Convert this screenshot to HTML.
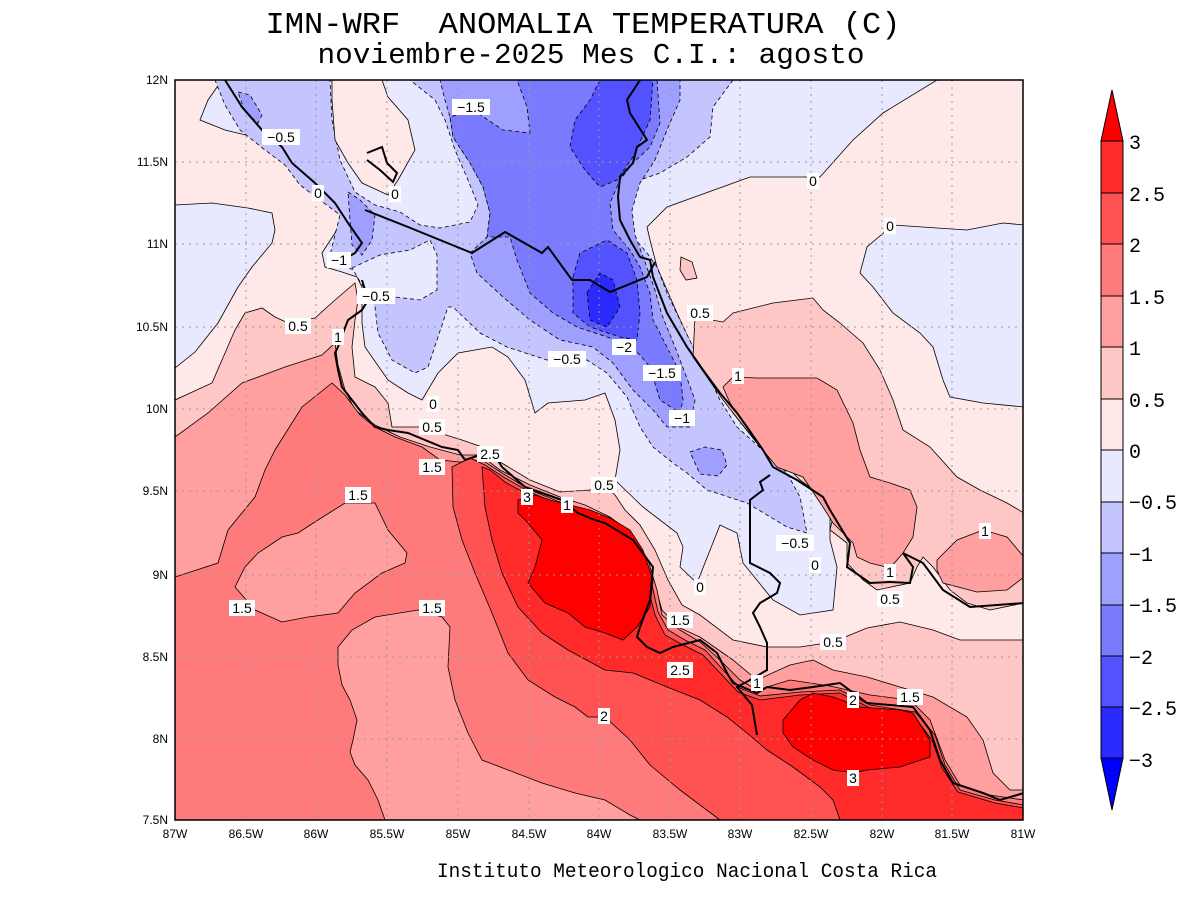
<!DOCTYPE html>
<html><head><meta charset="utf-8"><style>
html,body{margin:0;padding:0;background:#fff;}
svg{display:block;}
.t{font-family:"Liberation Mono",monospace;}
.lb{font-family:"Liberation Sans",sans-serif;font-size:14px;text-anchor:middle;}
</style></head><body>
<svg width="1200" height="900" viewBox="0 0 1200 900" xmlns="http://www.w3.org/2000/svg">
<defs><clipPath id="pc"><rect x="175" y="80" width="848" height="740"/></clipPath></defs>
<rect width="1200" height="900" fill="#fff"/>
<text class="t" x="583" y="33" font-size="31" text-anchor="middle" textLength="635" lengthAdjust="spacingAndGlyphs">IMN-WRF&#160;&#160;ANOMALIA TEMPERATURA (C)</text>
<text class="t" x="591" y="63" font-size="29" text-anchor="middle" textLength="547" lengthAdjust="spacingAndGlyphs">noviembre-2025 Mes C.I.: agosto</text>
<g clip-path="url(#pc)" stroke="#000" stroke-width="0.8">
<rect x="175" y="80" width="848" height="740" fill="#ffe8e8" stroke="none"/>
<polygon fill="#e8e8ff" points="175,205 212,203 248,208 272,213 275,230 272,243 252,267 238,287 218,323 195,352 175,368"/>
<polygon fill="#e8e8ff" points="222,80 937,80 883,113 853,140 820,177 750,177 667,207 647,227 650,240 657,267 677,313 700,363 733,413 760,447 790,470 813,480 830,507 830,540 837,567 833,610 800,615 773,600 743,563 737,533 720,525 697,583 680,567 683,547 677,533 643,507 615,480 620,450 615,420 605,393 585,400 548,403 535,413 525,380 508,357 492,347 458,353 438,373 422,400 408,393 388,380 365,347 362,323 362,287 357,277 342,272 325,267 322,253 335,233 342,217 335,207 318,195 308,187 295,173 288,157 275,147 258,138 225,130 200,120 208,100"/>
<polygon fill="#e8e8ff" points="1024,225 1003,223 967,230 893,225 867,247 860,273 873,287 893,313 920,333 933,347 943,380 950,397 983,403 1024,407"/>
<polygon fill="#c4c4ff" stroke-dasharray="4,3" points="215,80 733,80 713,107 710,137 687,157 660,173 640,180 620,195 620,213 630,233 647,253 657,267 667,293 680,320 693,347 707,373 720,400 737,427 757,445 787,473 800,497 807,533 787,527 747,503 707,490 687,473 673,463 653,447 640,427 627,397 607,373 587,360 547,360 507,347 480,333 453,307 448,307 428,367 415,373 392,360 378,333 375,307 368,290 360,275 345,265 330,255 335,235 340,215 320,200 300,185 285,165 265,150 240,130 225,105"/>
<polygon fill="#e8e8ff" stroke-dasharray="4,3" points="330,80 410,80 435,100 445,120 455,150 468,180 478,205 470,222 440,228 420,225 400,212 375,205 355,192 340,160 332,120"/>
<polygon fill="#e8e8ff" stroke-dasharray="4,3" points="352,268 380,255 410,250 430,240 437,255 437,290 420,300 395,297 375,300 362,285"/>
<polygon fill="#ffe8e8" points="332,80 382,80 388,97 408,120 415,150 398,180 388,195 362,183 348,163 335,140 332,100"/>
<polygon fill="#9f9fff" stroke-dasharray="4,3" points="238,92 250,95 262,115 258,123 245,112"/>
<polygon fill="#9f9fff" stroke-dasharray="4,3" points="348,192 360,200 375,215 372,240 362,255 352,245 350,220"/>
<polygon fill="#9f9fff" stroke-dasharray="4,3" points="440,80 680,80 680,100 667,130 655,160 640,183 632,210 635,235 645,262 655,290 662,315 675,347 685,373 695,400 690,427 667,427 653,410 633,390 613,363 593,347 560,340 530,320 503,297 477,273 470,253 487,237 490,213 483,187 470,163 453,137 450,117 445,100"/>
<polygon fill="#9f9fff" stroke-dasharray="4,3" points="690,452 705,447 722,450 727,465 718,476 700,474"/>
<polygon fill="#7a7aff" stroke-dasharray="4,3" points="517,80 657,80 660,123 650,147 633,163 620,180 610,203 613,230 630,250 640,267 650,293 653,320 667,347 680,373 683,400 680,413 660,400 650,367 633,347 607,337 577,327 553,313 530,293 517,260 510,237 487,237 490,213 483,187 470,163 453,137 450,117 473,110 503,130 530,133 527,107"/>
<polygon fill="#5252ff" stroke-dasharray="4,3" points="600,80 653,80 650,120 633,157 617,180 600,187 585,170 570,147 575,120 590,100"/>
<polygon fill="#5252ff" stroke-dasharray="4,3" points="573,277 580,253 607,240 627,253 637,280 640,313 637,340 620,337 590,327 573,313"/>
<polygon fill="#2a2aff" stroke-dasharray="4,3" points="587,293 600,273 613,280 620,307 607,327 590,320"/>
<polygon fill="#ffc6c6" points="175,400 212,383 235,330 245,313 262,308 275,317 288,323 315,318 335,300 355,283 358,300 355,320 352,347 355,377 375,387 388,403 392,427 420,427 462,440 485,448 500,462 530,480 560,492 590,490 604,485 615,495 625,510 640,525 655,550 668,580 682,605 700,615 733,640 767,647 800,647 833,642 867,628 900,622 933,630 960,640 1000,640 1024,640 1024,820 175,820"/>
<polygon fill="#ffc6c6" points="695,317 723,322 733,313 773,303 813,298 823,310 840,323 863,343 880,370 893,400 903,430 930,447 957,477 980,490 1007,503 1024,513 1024,603 990,610 967,603 950,590 933,567 923,557 917,567 910,583 877,590 863,580 847,563 847,543 830,530 833,517 823,497 800,480 790,470 757,443 723,400 693,357"/>
<polygon fill="#ffc6c6" points="681,257 692,262 697,278 686,280 680,270"/>
<polygon fill="#ff9f9f" points="723,387 733,377 757,378 817,378 837,390 853,423 860,450 870,477 890,483 910,490 917,507 913,537 903,553 890,568 870,563 857,557 853,543 833,523 823,507 803,477 777,467 757,443 730,403"/>
<polygon fill="#ff9f9f" points="937,560 957,540 983,530 1007,537 1024,557 1024,577 1007,590 977,592 943,583 937,570"/>
<polygon fill="#ff9f9f" points="175,437 208,413 242,383 285,367 322,355 335,343 338,365 345,390 355,410 375,425 400,437 430,447 460,455 480,455 500,470 530,485 560,497 585,505 610,517 630,532 645,555 655,585 662,610 678,627 700,637 733,660 757,680 790,665 813,660 833,670 867,677 900,687 933,697 967,717 983,740 993,773 1010,790 1024,790 1024,820 175,820"/>
<polygon fill="#ff7a7a" points="175,577 218,563 228,530 255,497 265,470 275,450 302,407 332,383 345,395 360,415 375,427 395,437 422,447 440,460 460,462 482,460 502,473 530,490 560,502 590,512 615,522 635,538 648,560 657,590 662,615 680,630 700,642 720,660 740,680 757,690 790,680 830,686 870,695 910,700 930,720 945,760 960,785 990,795 1024,800 1024,820 175,820"/>
<polygon fill="#ff9f9f" points="235,587 255,610 282,622 308,617 338,613 355,593 382,573 405,563 407,553 388,530 375,503 345,503 318,520 298,533 282,537 258,553 245,567"/>
<polygon fill="#ff9f9f" points="338,647 352,630 375,617 418,610 442,617 450,627 448,667 455,700 468,733 482,760 508,770 542,783 575,793 605,800 630,815 640,820 385,820 378,800 368,780 355,765 350,752 353,740 357,720 350,700 342,685 338,665"/>
<polygon fill="#ff5252" points="452,467 453,507 462,540 475,573 492,613 508,653 528,680 555,697 575,707 588,717 605,717 630,740 650,765 680,790 720,820 1024,820 1024,805 995,800 960,790 945,765 935,735 915,712 870,705 840,690 800,692 760,696 740,688 725,672 705,650 685,640 668,630 658,612 652,585 643,560 630,540 610,525 585,515 560,505 530,492 505,478 485,465 470,458"/>
<polygon fill="#ff2a2a" points="482,467 485,507 492,540 502,573 518,607 542,633 568,650 605,670 633,673 667,687 700,700 727,717 747,733 767,750 793,767 820,787 833,800 840,820 1024,820 1024,808 995,803 958,792 942,768 932,740 913,715 870,708 840,693 800,695 760,700 738,692 722,675 703,655 683,645 665,635 655,615 648,588 640,563 628,545 608,530 585,520 560,510 530,496 505,482 490,470"/>
<polygon fill="#ff0000" points="518,500 518,513 528,523 542,540 535,567 528,583 545,603 568,613 585,627 605,633 623,640 637,627 650,607 653,580 643,550 630,530 610,518 590,510 570,505 550,500 535,495"/>
<polygon fill="#ff0000" points="783,720 800,700 813,693 833,697 860,707 900,710 913,713 930,740 930,757 900,767 867,770 853,773 833,770 813,760 793,747 783,733"/>
<g stroke="#999" stroke-width="1" stroke-dasharray="2,5" fill="none">
<path d="M246,80V820M316,80V820M387,80V820M458,80V820M529,80V820M599,80V820M670,80V820M740,80V820M811,80V820M882,80V820M952,80V820"/>
<path d="M175,162H1023M175,244H1023M175,327H1023M175,409H1023M175,491H1023M175,575H1023M175,657H1023M175,739H1023"/>
</g>
<g fill="none" stroke="#000" stroke-width="2">
<polyline points="225,80 242,107 262,130 282,147 292,163 315,183 335,203 348,223 355,233 362,243 355,253 348,257"/>
<polyline points="362,280 368,300 362,310 348,320 343,333 338,347 335,353 338,370 342,387 352,400 362,413 375,427 388,430 408,433 425,440 442,447 458,450 465,460 480,455 490,448 502,467 525,487 542,493 562,500 578,513 595,520 605,523 633,540 653,567 650,600 640,627 637,637 647,647 660,653 673,647 700,640 717,653 727,673 733,683 757,693 767,687 790,690 813,687 840,683 867,703 913,707 930,730 940,760 953,783 983,793 1000,800 1024,793"/>
<polyline points="640,80 627,100 630,113 647,140 637,147 633,163 620,177 618,197 620,220 630,240 640,257 650,260 653,277 667,313 687,347 703,370 720,393 737,413 747,427 763,450 773,467 797,480 823,497 830,510 850,543 847,567 870,583 890,582 910,583 913,567 903,553 923,563 943,590 970,607 1024,603"/>
<polyline points="365,210 408,227 472,253 505,232 542,253 548,247 572,280 590,280 610,292 647,277 655,262"/>
<polyline points="770,475 760,482 763,490 750,500 750,563 770,573 780,583 777,593 760,603 753,613 760,627 767,643 767,670 750,680 737,687 752,705 757,735"/>
<polyline points="367,153 382,147 387,163 397,173 393,182 380,170 367,160"/>
</g>
</g>
<rect x="175" y="80" width="848" height="740" fill="none" stroke="#000" stroke-width="1.5"/>
<g class="lb">
<g fill="#fff" stroke="none">
<rect x="452" y="99" width="38" height="16"/><rect x="262" y="129" width="38" height="16"/><rect x="312" y="185" width="12" height="16"/><rect x="389" y="186" width="12" height="16"/><rect x="327" y="252" width="24" height="16"/><rect x="357" y="288" width="38" height="16"/><rect x="285" y="318" width="26" height="16"/><rect x="332" y="329" width="12" height="16"/><rect x="427" y="396" width="12" height="16"/><rect x="419" y="419" width="26" height="16"/><rect x="477" y="446" width="26" height="16"/><rect x="419" y="459" width="26" height="16"/><rect x="345" y="487" width="26" height="16"/><rect x="521" y="489" width="12" height="16"/><rect x="561" y="497" width="12" height="16"/><rect x="591" y="477" width="26" height="16"/><rect x="548" y="351" width="38" height="16"/><rect x="612" y="339" width="24" height="16"/><rect x="643" y="365" width="38" height="16"/><rect x="669" y="410" width="26" height="16"/><rect x="687" y="305" width="26" height="16"/><rect x="732" y="368" width="12" height="16"/><rect x="807" y="173" width="12" height="16"/><rect x="884" y="218" width="12" height="16"/><rect x="979" y="523" width="12" height="16"/><rect x="776" y="535" width="38" height="16"/><rect x="809" y="557" width="12" height="16"/><rect x="884" y="564" width="12" height="16"/><rect x="877" y="591" width="26" height="16"/><rect x="694" y="579" width="12" height="16"/><rect x="667" y="612" width="26" height="16"/><rect x="667" y="662" width="26" height="16"/><rect x="820" y="634" width="26" height="16"/><rect x="751" y="675" width="12" height="16"/><rect x="847" y="692" width="12" height="16"/><rect x="897" y="689" width="26" height="16"/><rect x="598" y="708" width="12" height="16"/><rect x="847" y="770" width="12" height="16"/><rect x="229" y="600" width="26" height="16"/><rect x="419" y="600" width="26" height="16"/>
</g>
<text x="471" y="112">−1.5</text><text x="281" y="142">−0.5</text><text x="318" y="198">0</text><text x="395" y="199">0</text><text x="339" y="265">−1</text><text x="376" y="301">−0.5</text><text x="298" y="331">0.5</text><text x="338" y="342">1</text><text x="433" y="409">0</text><text x="432" y="432">0.5</text><text x="490" y="459">2.5</text><text x="432" y="472">1.5</text><text x="358" y="500">1.5</text><text x="527" y="502">3</text><text x="567" y="510">1</text><text x="604" y="490">0.5</text><text x="567" y="364">−0.5</text><text x="624" y="352">−2</text><text x="662" y="378">−1.5</text><text x="682" y="423">−1</text><text x="700" y="318">0.5</text><text x="738" y="381">1</text><text x="813" y="186">0</text><text x="890" y="231">0</text><text x="985" y="536">1</text><text x="795" y="548">−0.5</text><text x="815" y="570">0</text><text x="890" y="577">1</text><text x="890" y="604">0.5</text><text x="700" y="592">0</text><text x="680" y="625">1.5</text><text x="680" y="675">2.5</text><text x="833" y="647">0.5</text><text x="757" y="688">1</text><text x="853" y="705">2</text><text x="910" y="702">1.5</text><text x="604" y="721">2</text><text x="853" y="783">3</text><text x="242" y="613">1.5</text><text x="432" y="613">1.5</text>
</g>
<g font-family="Liberation Sans,sans-serif" font-size="12" text-anchor="end">
<text x="168" y="84">12N</text><text x="168" y="166">11.5N</text><text x="168" y="248">11N</text><text x="168" y="331">10.5N</text><text x="168" y="413">10N</text><text x="168" y="495">9.5N</text><text x="168" y="579">9N</text><text x="168" y="661">8.5N</text><text x="168" y="743">8N</text><text x="168" y="824">7.5N</text>
</g>
<g font-family="Liberation Sans,sans-serif" font-size="12" text-anchor="middle">
<text x="175" y="838">87W</text><text x="246" y="838">86.5W</text><text x="316" y="838">86W</text><text x="387" y="838">85.5W</text><text x="458" y="838">85W</text><text x="529" y="838">84.5W</text><text x="599" y="838">84W</text><text x="670" y="838">83.5W</text><text x="740" y="838">83W</text><text x="811" y="838">82.5W</text><text x="882" y="838">82W</text><text x="952" y="838">81.5W</text><text x="1023" y="838">81W</text>
</g>
<text class="t" x="687" y="877" font-size="20" text-anchor="middle" textLength="500" lengthAdjust="spacingAndGlyphs">Instituto Meteorologico Nacional Costa Rica</text>
<g stroke="#000" stroke-width="1">
<polygon points="1101,141 1112,90 1123,141" fill="#ff0000"/>
<rect x="1101" y="141" width="22" height="52" fill="#ff2a2a"/>
<rect x="1101" y="193" width="22" height="51" fill="#ff5252"/>
<rect x="1101" y="244" width="22" height="52" fill="#ff7a7a"/>
<rect x="1101" y="296" width="22" height="51" fill="#ff9f9f"/>
<rect x="1101" y="347" width="22" height="52" fill="#ffc6c6"/>
<rect x="1101" y="399" width="22" height="51" fill="#ffe8e8"/>
<rect x="1101" y="450" width="22" height="52" fill="#e8e8ff"/>
<rect x="1101" y="502" width="22" height="51" fill="#c4c4ff"/>
<rect x="1101" y="553" width="22" height="52" fill="#9f9fff"/>
<rect x="1101" y="605" width="22" height="51" fill="#7a7aff"/>
<rect x="1101" y="656" width="22" height="51" fill="#5252ff"/>
<rect x="1101" y="707" width="22" height="51" fill="#2a2aff"/>
<polygon points="1101,758 1112,810 1123,758" fill="#0000ff"/>
</g>
<g class="t" font-size="20">
<text x="1129" y="149">3</text><text x="1129" y="201">2.5</text><text x="1129" y="252">2</text><text x="1129" y="304">1.5</text><text x="1129" y="355">1</text><text x="1129" y="407">0.5</text><text x="1129" y="458">0</text><text x="1129" y="509">−0.5</text><text x="1129" y="561">−1</text><text x="1129" y="612">−1.5</text><text x="1129" y="664">−2</text><text x="1129" y="715">−2.5</text><text x="1129" y="767">−3</text>
</g>
</svg>
</body></html>
